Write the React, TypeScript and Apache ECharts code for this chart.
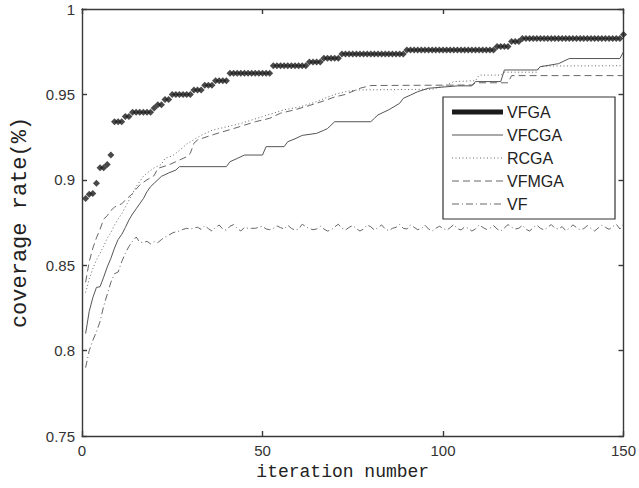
import React, { useEffect, useRef } from "react";
import * as echarts from "echarts";

const xTicks = [0, 50, 100, 150];
const yTicks = [0.75, 0.8, 0.85, 0.9, 0.95, 1];
const seriesNames = ["VFGA", "VFCGA", "RCGA", "VFMGA", "VF"];
const xTitle = "iteration number";
const yTitle = "coverage rate(%)";

// VFGA: one marker per iteration (1..150)
const vfga = [
  0.889, 0.8915, 0.892, 0.898, 0.907, 0.907, 0.909, 0.9145, 0.934, 0.934,
  0.934, 0.937, 0.937, 0.9395, 0.9395, 0.9395, 0.9395, 0.9395, 0.9395, 0.942,
  0.944, 0.944, 0.947, 0.947, 0.95, 0.95, 0.95, 0.95, 0.95, 0.95,
  0.9526, 0.9526, 0.9526, 0.9553, 0.9553, 0.9553, 0.958, 0.958, 0.958, 0.958,
  0.9624, 0.9624, 0.9624, 0.9624, 0.9624, 0.9624, 0.9624, 0.9624, 0.9624, 0.9624,
  0.9624, 0.9624, 0.9668, 0.9668, 0.9668, 0.9668, 0.9668, 0.9668, 0.9668, 0.9668,
  0.9668, 0.9668, 0.969, 0.969, 0.969, 0.969, 0.9712, 0.9712, 0.9712, 0.9712,
  0.9712, 0.9737, 0.9737, 0.9737, 0.9737, 0.9737, 0.9737, 0.9737, 0.9737, 0.9737,
  0.9737, 0.9737, 0.9737, 0.9737, 0.9737, 0.9737, 0.9737, 0.9737, 0.9737, 0.976,
  0.976, 0.976, 0.976, 0.976, 0.976, 0.976, 0.976, 0.976, 0.976, 0.976,
  0.976, 0.976, 0.976, 0.976, 0.976, 0.976, 0.976, 0.976, 0.976, 0.976,
  0.976, 0.976, 0.976, 0.976, 0.978, 0.978, 0.978, 0.978, 0.981, 0.981,
  0.981, 0.9828, 0.9828, 0.9828, 0.9828, 0.9828, 0.9828, 0.9828, 0.9828, 0.9828,
  0.9828, 0.9828, 0.9828, 0.9828, 0.9828, 0.9828, 0.9828, 0.9828, 0.9828, 0.9828,
  0.9828, 0.9828, 0.9828, 0.9828, 0.9828, 0.9828, 0.9828, 0.9828, 0.9828, 0.985,
];

// VFCGA: vertices of the solid curve
const vfcgaX = [1, 2, 3, 4, 5, 6, 7, 8, 9, 10, 11, 12, 13, 14, 15, 16, 17, 18, 19, 20, 22, 24, 26, 27, 40, 41, 43, 45, 50, 51, 56, 57, 59, 61, 65, 67, 68, 70, 80, 81, 82, 85, 88, 89, 91, 93, 96, 104, 108, 109, 116, 117, 126, 127, 132, 135, 149, 150];
const vfcgaY = [0.81, 0.823, 0.831, 0.837, 0.8374, 0.843, 0.849, 0.854, 0.86, 0.865, 0.868, 0.872, 0.8765, 0.88, 0.883, 0.886, 0.889, 0.893, 0.896, 0.898, 0.902, 0.904, 0.9057, 0.9077, 0.9077, 0.9106, 0.9125, 0.9145, 0.9145, 0.9194, 0.9194, 0.9223, 0.924, 0.926, 0.9272, 0.929, 0.93, 0.934, 0.934, 0.936, 0.938, 0.941, 0.9448, 0.9477, 0.9496, 0.9516, 0.9536, 0.955, 0.955, 0.9575, 0.9575, 0.9643, 0.9643, 0.9662, 0.968, 0.971, 0.971, 0.975];

// RCGA: vertices of the dotted curve
const rcgaX = [1, 2, 3, 4, 5, 6, 7, 8, 9, 10, 11, 12, 13, 14, 15, 16, 17, 18, 20, 22, 23, 25, 26, 28, 29, 31, 33, 36, 40, 44, 47, 50, 53, 56, 60, 64, 67, 70, 73, 76, 97, 101, 103, 109, 110, 116, 117, 126, 127, 150];
const rcgaY = [0.834, 0.842, 0.848, 0.853, 0.857, 0.861, 0.866, 0.869, 0.8735, 0.877, 0.88, 0.884, 0.888, 0.892, 0.896, 0.899, 0.902, 0.904, 0.907, 0.909, 0.9126, 0.914, 0.9155, 0.919, 0.921, 0.9235, 0.926, 0.929, 0.931, 0.933, 0.935, 0.937, 0.939, 0.941, 0.9425, 0.945, 0.9475, 0.95, 0.9516, 0.9526, 0.953, 0.9555, 0.9575, 0.958, 0.9613, 0.9613, 0.963, 0.963, 0.9666, 0.9668];

// VFMGA: vertices of the dashed curve
const vfmgaX = [1, 2, 3, 4, 5, 6, 7, 8, 9, 11, 12, 14, 16, 18, 20, 21, 24, 26, 29, 30, 31, 32, 35, 38, 42, 45, 48, 52, 55, 59, 63, 67, 70, 73, 77, 80, 108, 109, 118, 119, 150];
const vfmgaY = [0.84, 0.852, 0.86, 0.866, 0.871, 0.877, 0.879, 0.882, 0.884, 0.886, 0.888, 0.892, 0.897, 0.9, 0.9025, 0.9067, 0.9087, 0.9106, 0.9135, 0.9155, 0.9214, 0.9233, 0.9255, 0.9275, 0.93, 0.932, 0.934, 0.936, 0.939, 0.941, 0.9435, 0.9462, 0.9485, 0.95, 0.9536, 0.9552, 0.9555, 0.9568, 0.9568, 0.961, 0.961];

// VF: one value per iteration (1..150)
const vf = [
  0.79, 0.8, 0.806, 0.811, 0.817, 0.826, 0.833, 0.84, 0.845, 0.846,
  0.852, 0.857, 0.861, 0.864, 0.8665, 0.8635, 0.8632, 0.864, 0.8625, 0.8638,
  0.8632, 0.865, 0.8665, 0.8675, 0.8688, 0.8696, 0.87, 0.871, 0.8716, 0.8712,
  0.8718, 0.8722, 0.871, 0.8732, 0.8714, 0.87, 0.8722, 0.8735, 0.8712, 0.8705,
  0.8728, 0.8738, 0.8716, 0.87, 0.8722, 0.8716, 0.8716, 0.8716, 0.8722, 0.8728,
  0.8712, 0.8708, 0.8716, 0.873, 0.872, 0.8712, 0.8734, 0.8716, 0.8705, 0.8712,
  0.874, 0.8725, 0.8714, 0.8708, 0.8712, 0.8728, 0.8712, 0.87, 0.8706, 0.8724,
  0.874, 0.8716, 0.8706, 0.8722, 0.8732, 0.8714, 0.87, 0.8712, 0.8735, 0.8725,
  0.8706, 0.872, 0.8736, 0.8712, 0.8702, 0.8716, 0.8722, 0.8738, 0.8716, 0.8712,
  0.8736, 0.8722, 0.8708, 0.8714, 0.8734, 0.8712, 0.87, 0.8716, 0.8728, 0.8716,
  0.8705, 0.872, 0.8738, 0.8714, 0.8706, 0.8724, 0.8716, 0.87, 0.8712, 0.8736,
  0.8722, 0.871, 0.8716, 0.8732, 0.8712, 0.87, 0.8718, 0.8738, 0.8722, 0.8712,
  0.8716, 0.8734, 0.871, 0.87, 0.872, 0.8735, 0.8716, 0.8706, 0.8722, 0.8738,
  0.8716, 0.8712, 0.8726, 0.8702, 0.8716, 0.8736, 0.872, 0.8708, 0.8714, 0.8732,
  0.8716, 0.87, 0.8718, 0.8734, 0.8722, 0.871, 0.8726, 0.874, 0.8712, 0.8742,
];

const zip = (xs: number[], ys: number[]) => xs.map((x, i) => [x, ys[i]]);
const perIter = (ys: number[]) => ys.map((y, i) => [i + 1, y]);

export default function App() {
  const ref = useRef<HTMLDivElement>(null);
  useEffect(() => {
    document.body.style.margin = "0";
    const chart = echarts.init(ref.current!, null, { renderer: "svg" });
    const axisLineStyle = { color: "#3a3a3a", width: 1.4 };
    const tickFont = { fontFamily: "Liberation Sans", fontSize: 15, color: "#333" };
    const yFmt = (v: number) => String(Math.round(v * 100) / 100);

    const legendStyles: any[] = [
      { stroke: "#1a1a1a", lineWidth: 5 },
      { stroke: "#555", lineWidth: 1 },
      { stroke: "#666", lineWidth: 1, lineDash: [1, 2.5] },
      { stroke: "#666", lineWidth: 1, lineDash: [7, 4] },
      { stroke: "#666", lineWidth: 1, lineDash: [7, 3, 1, 3] },
    ];
    const legendTop = 97;
    const legendLeft = 443;
    const rowY = [112, 135, 158, 181, 204];
    const legendChildren: any[] = [
      {
        type: "rect",
        shape: { x: legendLeft, y: legendTop, width: 172, height: 122 },
        style: { fill: "#fff", stroke: "#333", lineWidth: 1.2 },
      },
    ];
    seriesNames.forEach((name, i) => {
      legendChildren.push({
        type: "line",
        shape: { x1: 452, y1: rowY[i], x2: 503, y2: rowY[i] },
        style: { ...legendStyles[i], fill: null },
      });
      legendChildren.push({
        type: "text",
        x: 507,
        y: rowY[i],
        style: {
          text: name,
          fontFamily: "Liberation Sans",
          fontSize: 16,
          fill: "#222",
          verticalAlign: "middle",
          align: "left",
        },
      });
    });

    chart.setOption({
      animation: false,
      backgroundColor: "#fff",
      grid: { left: 82, right: 12, top: 9, bottom: 52 },
      xAxis: [
        {
          type: "value",
          min: xTicks[0],
          max: xTicks[xTicks.length - 1],
          interval: 50,
          position: "bottom",
          axisLine: { show: true, onZero: false, lineStyle: axisLineStyle },
          axisTick: { show: true, inside: true, length: 5, lineStyle: axisLineStyle },
          axisLabel: { ...tickFont, margin: 7 },
          splitLine: { show: false },
          name: xTitle,
          nameLocation: "middle",
          nameGap: 23,
          nameTextStyle: {
            fontFamily: "Liberation Mono",
            fontSize: 18,
            color: "#222",
            padding: [0, 20, 0, 0],
          },
        },
        {
          type: "value",
          min: xTicks[0],
          max: xTicks[xTicks.length - 1],
          interval: 50,
          position: "top",
          axisLine: { show: true, onZero: false, lineStyle: axisLineStyle },
          axisTick: { show: true, inside: true, length: 5, lineStyle: axisLineStyle },
          axisLabel: { show: false },
          splitLine: { show: false },
        },
      ],
      yAxis: [
        {
          type: "value",
          min: yTicks[0],
          max: yTicks[yTicks.length - 1],
          interval: 0.05,
          position: "left",
          axisLine: { show: true, onZero: false, lineStyle: axisLineStyle },
          axisTick: { show: true, inside: true, length: 5, lineStyle: axisLineStyle },
          axisLabel: { ...tickFont, margin: 7, formatter: yFmt },
          splitLine: { show: false },
          name: yTitle,
          nameLocation: "middle",
          nameGap: 51,
          nameRotate: 90,
          nameTextStyle: { fontFamily: "Liberation Mono", fontSize: 22, color: "#222" },
        },
        {
          type: "value",
          min: yTicks[0],
          max: yTicks[yTicks.length - 1],
          interval: 0.05,
          position: "right",
          axisLine: { show: true, onZero: false, lineStyle: axisLineStyle },
          axisTick: { show: true, inside: true, length: 5, lineStyle: axisLineStyle },
          axisLabel: { show: false },
          splitLine: { show: false },
        },
      ],
      series: [
        {
          name: seriesNames[4],
          type: "line",
          data: perIter(vf),
          symbol: "none",
          lineStyle: { color: "#666", width: 1, type: [7, 3, 1, 3] },
          z: 2,
        },
        {
          name: seriesNames[3],
          type: "line",
          data: zip(vfmgaX, vfmgaY),
          symbol: "none",
          lineStyle: { color: "#666", width: 1, type: [7, 4] },
          z: 2,
        },
        {
          name: seriesNames[2],
          type: "line",
          data: zip(rcgaX, rcgaY),
          symbol: "none",
          lineStyle: { color: "#666", width: 1, type: [1, 2.5] },
          z: 2,
        },
        {
          name: seriesNames[1],
          type: "line",
          data: zip(vfcgaX, vfcgaY),
          symbol: "none",
          lineStyle: { color: "#555", width: 1 },
          z: 3,
        },
        {
          name: seriesNames[0],
          type: "scatter",
          data: perIter(vfga),
          symbol: "diamond",
          symbolSize: [7, 7],
          itemStyle: { color: "#1c1c1c" },
          z: 4,
        },
      ],
      graphic: [{ type: "group", z: 100, children: legendChildren }],
    });
    return () => chart.dispose();
  }, []);
  return (
    <div
      ref={ref}
      style={{ position: "absolute", left: 0, top: 0, width: 639, height: 488 }}
    />
  );
}
